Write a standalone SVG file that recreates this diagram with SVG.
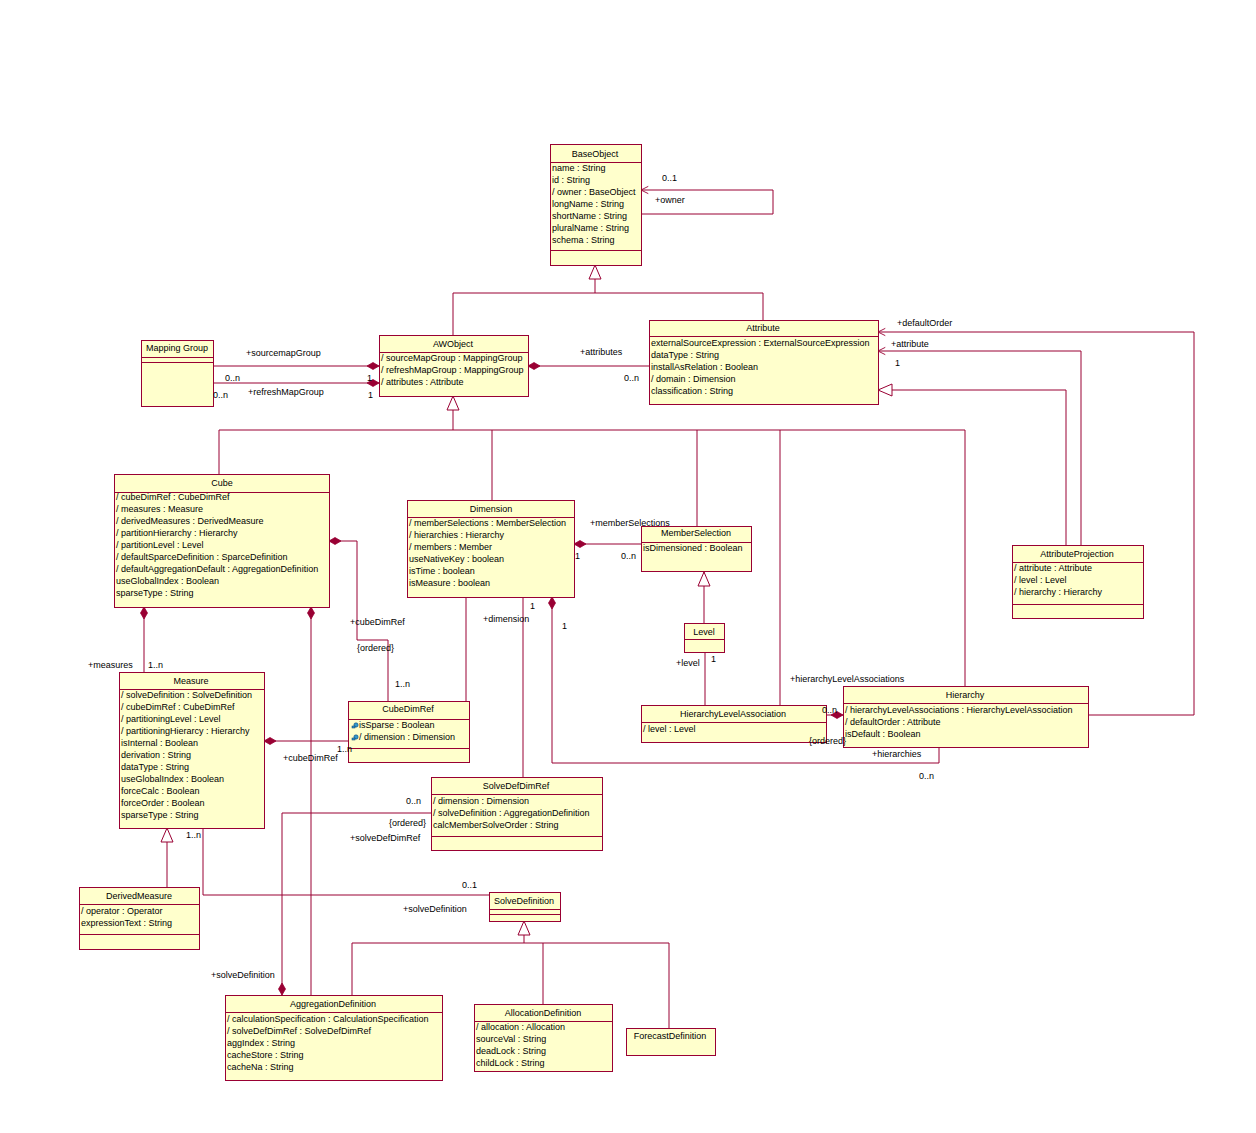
<svg xmlns="http://www.w3.org/2000/svg" width="1256" height="1133" viewBox="0 0 1256 1133">
<style>
.box{fill:#FFFFCC;stroke:#990033;stroke-width:1}
.sep{stroke:#990033;stroke-width:1}
text{font-family:"Liberation Sans",Arial,sans-serif;font-size:9px;fill:#000}
.t{text-anchor:middle}
.c{fill:none;stroke:#990033;stroke-width:1}
.dm{marker-end:url(#diamond)}
.ar{marker-end:url(#arrow)}
.tr{marker-end:url(#tri)}
</style>
<defs>
<marker id="diamond" markerUnits="userSpaceOnUse" markerWidth="14" markerHeight="10" viewBox="-13 -5 14 10" refX="0" refY="0" orient="auto" overflow="visible">
<path d="M0,0 L-6,-3.5 L-12,0 L-6,3.5 Z" fill="#990033" stroke="#990033" stroke-width="0.8"/>
</marker>
<marker id="arrow" markerUnits="userSpaceOnUse" markerWidth="10" markerHeight="10" viewBox="-10 -5 11 10" refX="0" refY="0" orient="auto" overflow="visible">
<path d="M-8,-4 L0,0 L-8,4" fill="none" stroke="#990033" stroke-width="1"/>
</marker>
<marker id="tri" markerUnits="userSpaceOnUse" markerWidth="16" markerHeight="14" viewBox="-15 -7 16 14" refX="0" refY="0" orient="auto" overflow="visible">
<path d="M0,0 L-14,-6 L-14,6 Z" fill="#FFFFFF" stroke="#990033" stroke-width="1"/>
</marker>
</defs>
<rect width="1256" height="1133" fill="#FFFFFF"/>

<g id="connectors">
<path class="c tr" d="M453,335 V293 H595 V265"/>
<path class="c" d="M763,320 V293 H595"/>
<path class="c ar" d="M641,214 H773 V190 H641"/>
<path class="c dm" d="M213,366 H379"/>
<path class="c dm" d="M213,383 H379"/>
<path class="c dm" d="M649,366 H528"/>
<path class="c" d="M219,474 V430 H965 V686"/>
<path class="c tr" d="M453,430 V396"/>
<path class="c" d="M492,430 V500"/>
<path class="c" d="M697,430 V526"/>
<path class="c" d="M780,430 V705"/>
<path class="c ar" d="M1088,715 H1194 V332 H878"/>
<path class="c ar" d="M1081,545 V351 H878"/>
<path class="c tr" d="M1066,545 V390 H878"/>
<path class="c dm" d="M388,701 V640 H357 V541 H329"/>
<path class="c dm" d="M144,672 V607"/>
<path class="c dm" d="M311,995 V607"/>
<path class="c dm" d="M641,544 H574"/>
<path class="c" d="M466,597 V701"/>
<path class="c" d="M523,597 V777"/>
<path class="c dm" d="M939,747 V763 H552 V597"/>
<path class="c tr" d="M704,623 V572"/>
<path class="c" d="M705,652 V705"/>
<path class="c dm" d="M826,715 H843"/>
<path class="c dm" d="M348,741 H264"/>
<path class="c tr" d="M167,887 V828"/>
<path class="c" d="M203,828 V895 H489"/>
<path class="c dm" d="M431,813 H282 V995"/>
<path class="c" d="M352,995 V943 H669 V1028"/>
<path class="c" d="M543,943 V1004"/>
<path class="c tr" d="M524,943 V921"/>
</g>

<g id="BaseObject">
<rect class="box" x="550.5" y="144.5" width="91" height="121"/>
<line class="sep" x1="550" y1="162.5" x2="641" y2="162.5"/>
<line class="sep" x1="550" y1="250.5" x2="641" y2="250.5"/>
<text class="t" x="595" y="157">BaseObject</text>
<text x="552" y="171">name : String</text>
<text x="552" y="183">id : String</text>
<text x="552" y="195">/ owner : BaseObject</text>
<text x="552" y="207">longName : String</text>
<text x="552" y="219">shortName : String</text>
<text x="552" y="231">pluralName : String</text>
<text x="552" y="243">schema : String</text>
</g>

<g id="MappingGroup">
<rect class="box" x="141.5" y="340.5" width="72" height="66"/>
<line class="sep" x1="141" y1="357.5" x2="213" y2="357.5"/>
<line class="sep" x1="141" y1="362.5" x2="213" y2="362.5"/>
<text class="t" x="177" y="351">Mapping Group</text>
</g>

<g id="AWObject">
<rect class="box" x="379.5" y="335.5" width="149" height="61"/>
<line class="sep" x1="379" y1="352.5" x2="528" y2="352.5"/>
<text class="t" x="453" y="347">AWObject</text>
<text x="381" y="361">/ sourceMapGroup : MappingGroup</text>
<text x="381" y="373">/ refreshMapGroup : MappingGroup</text>
<text x="381" y="385">/ attributes : Attribute</text>
</g>

<g id="Attribute">
<rect class="box" x="649.5" y="320.5" width="229" height="84"/>
<line class="sep" x1="649" y1="336.5" x2="878" y2="336.5"/>
<text class="t" x="763" y="331">Attribute</text>
<text x="651" y="346">externalSourceExpression : ExternalSourceExpression</text>
<text x="651" y="358">dataType : String</text>
<text x="651" y="370">installAsRelation : Boolean</text>
<text x="651" y="382">/ domain : Dimension</text>
<text x="651" y="394">classification : String</text>
</g>

<g id="Cube">
<rect class="box" x="114.5" y="474.5" width="215" height="133"/>
<line class="sep" x1="114" y1="492.5" x2="329" y2="492.5"/>
<text class="t" x="222" y="486">Cube</text>
<text x="116" y="500">/ cubeDimRef : CubeDimRef</text>
<text x="116" y="512">/ measures : Measure</text>
<text x="116" y="524">/ derivedMeasures : DerivedMeasure</text>
<text x="116" y="536">/ partitionHierarchy : Hierarchy</text>
<text x="116" y="548">/ partitionLevel : Level</text>
<text x="116" y="560">/ defaultSparceDefinition : SparceDefinition</text>
<text x="116" y="572">/ defaultAggregationDefault : AggregationDefinition</text>
<text x="116" y="584">useGlobalIndex : Boolean</text>
<text x="116" y="596">sparseType : String</text>
</g>

<g id="Dimension">
<rect class="box" x="407.5" y="500.5" width="167" height="97"/>
<line class="sep" x1="407" y1="517.5" x2="574" y2="517.5"/>
<text class="t" x="491" y="512">Dimension</text>
<text x="409" y="526">/ memberSelections : MemberSelection</text>
<text x="409" y="538">/ hierarchies : Hierarchy</text>
<text x="409" y="550">/ members : Member</text>
<text x="409" y="562">useNativeKey : boolean</text>
<text x="409" y="574">isTime : boolean</text>
<text x="409" y="586">isMeasure : boolean</text>
</g>

<g id="MemberSelection">
<rect class="box" x="641.5" y="526.5" width="110" height="45"/>
<line class="sep" x1="641" y1="542.5" x2="751" y2="542.5"/>
<text class="t" x="696" y="536">MemberSelection</text>
<text x="643" y="551">isDimensioned : Boolean</text>
</g>

<g id="AttributeProjection">
<rect class="box" x="1012.5" y="545.5" width="131" height="73"/>
<line class="sep" x1="1012" y1="562.5" x2="1143" y2="562.5"/>
<line class="sep" x1="1012" y1="604.5" x2="1143" y2="604.5"/>
<text class="t" x="1077" y="557">AttributeProjection</text>
<text x="1014" y="571">/ attribute : Attribute</text>
<text x="1014" y="583">/ level : Level</text>
<text x="1014" y="595">/ hierarchy : Hierarchy</text>
</g>

<g id="Level">
<rect class="box" x="684.5" y="623.5" width="40" height="29"/>
<line class="sep" x1="684" y1="639.5" x2="724" y2="639.5"/>
<text class="t" x="704" y="635">Level</text>
</g>

<g id="HierarchyLevelAssociation">
<rect class="box" x="641.5" y="705.5" width="185" height="37"/>
<line class="sep" x1="641" y1="722.5" x2="826" y2="722.5"/>
<text class="t" x="733" y="717">HierarchyLevelAssociation</text>
<text x="643" y="732">/ level : Level</text>
</g>

<g id="Hierarchy">
<rect class="box" x="843.5" y="686.5" width="245" height="61"/>
<line class="sep" x1="843" y1="703.5" x2="1088" y2="703.5"/>
<text class="t" x="965" y="698">Hierarchy</text>
<text x="845" y="713">/ hierarchyLevelAssociations : HierarchyLevelAssociation</text>
<text x="845" y="725">/ defaultOrder : Attribute</text>
<text x="845" y="737">isDefault : Boolean</text>
</g>

<g id="Measure">
<rect class="box" x="119.5" y="672.5" width="145" height="156"/>
<line class="sep" x1="119" y1="689.5" x2="264" y2="689.5"/>
<text class="t" x="191" y="684">Measure</text>
<text x="121" y="698">/ solveDefinition : SolveDefinition</text>
<text x="121" y="710">/ cubeDimRef : CubeDimRef</text>
<text x="121" y="722">/ partitioningLevel : Level</text>
<text x="121" y="734">/ partitioningHierarcy : Hierarchy</text>
<text x="121" y="746">isInternal : Boolean</text>
<text x="121" y="758">derivation : String</text>
<text x="121" y="770">dataType : String</text>
<text x="121" y="782">useGlobalIndex : Boolean</text>
<text x="121" y="794">forceCalc : Boolean</text>
<text x="121" y="806">forceOrder : Boolean</text>
<text x="121" y="818">sparseType : String</text>
</g>

<g id="CubeDimRef">
<rect class="box" x="348.5" y="701.5" width="121" height="61"/>
<line class="sep" x1="348" y1="719.5" x2="469" y2="719.5"/>
<line class="sep" x1="348" y1="748.5" x2="469" y2="748.5"/>
<text class="t" x="408" y="712">CubeDimRef</text>
<g fill="#3399CC" stroke="#003366" stroke-width="0.5">
<circle cx="356" cy="725" r="2.2"/>
<rect x="352" y="726" width="3" height="2"/>
<circle cx="356" cy="737" r="2.2"/>
<rect x="352" y="738" width="3" height="2"/>
</g>
<text x="359" y="728">isSparse : Boolean</text>
<text x="359" y="740">/ dimension : Dimension</text>
</g>

<g id="SolveDefDimRef">
<rect class="box" x="431.5" y="777.5" width="171" height="73"/>
<line class="sep" x1="431" y1="794.5" x2="602" y2="794.5"/>
<line class="sep" x1="431" y1="836.5" x2="602" y2="836.5"/>
<text class="t" x="516" y="789">SolveDefDimRef</text>
<text x="433" y="804">/ dimension : Dimension</text>
<text x="433" y="816">/ solveDefinition : AggregationDefinition</text>
<text x="433" y="828">calcMemberSolveOrder : String</text>
</g>

<g id="DerivedMeasure">
<rect class="box" x="79.5" y="887.5" width="120" height="62"/>
<line class="sep" x1="79" y1="904.5" x2="199" y2="904.5"/>
<line class="sep" x1="79" y1="934.5" x2="199" y2="934.5"/>
<text class="t" x="139" y="899">DerivedMeasure</text>
<text x="81" y="914">/ operator : Operator</text>
<text x="81" y="926">expressionText : String</text>
</g>

<g id="SolveDefinition">
<rect class="box" x="489.5" y="892.5" width="71" height="29"/>
<line class="sep" x1="489" y1="909.5" x2="560" y2="909.5"/>
<line class="sep" x1="489" y1="914.5" x2="560" y2="914.5"/>
<text class="t" x="524" y="904">SolveDefinition</text>
</g>

<g id="AggregationDefinition">
<rect class="box" x="225.5" y="995.5" width="217" height="85"/>
<line class="sep" x1="225" y1="1012.5" x2="442" y2="1012.5"/>
<text class="t" x="333" y="1007">AggregationDefinition</text>
<text x="227" y="1022">/ calculationSpecification : CalculationSpecification</text>
<text x="227" y="1034">/ solveDefDimRef : SolveDefDimRef</text>
<text x="227" y="1046">aggIndex : String</text>
<text x="227" y="1058">cacheStore : String</text>
<text x="227" y="1070">cacheNa : String</text>
</g>

<g id="AllocationDefinition">
<rect class="box" x="474.5" y="1004.5" width="138" height="67"/>
<line class="sep" x1="474" y1="1021.5" x2="612" y2="1021.5"/>
<text class="t" x="543" y="1016">AllocationDefinition</text>
<text x="476" y="1030">/ allocation : Allocation</text>
<text x="476" y="1042">sourceVal : String</text>
<text x="476" y="1054">deadLock : String</text>
<text x="476" y="1066">childLock : String</text>
</g>

<g id="ForecastDefinition">
<rect class="box" x="626.5" y="1028.5" width="89" height="27"/>
<text class="t" x="670" y="1039">ForecastDefinition</text>
</g>

<g id="labels">
<text x="662" y="181">0..1</text>
<text x="655" y="203">+owner</text>
<text x="246" y="356">+sourcemapGroup</text>
<text x="225" y="381">0..n</text>
<text x="367" y="381">1</text>
<text x="248" y="395">+refreshMapGroup</text>
<text x="213" y="398">0..n</text>
<text x="368" y="398">1</text>
<text x="580" y="355">+attributes</text>
<text x="624" y="381">0..n</text>
<text x="897" y="326">+defaultOrder</text>
<text x="891" y="347">+attribute</text>
<text x="895" y="366">1</text>
<text x="350" y="625">+cubeDimRef</text>
<text x="357" y="651">{ordered}</text>
<text x="395" y="687">1..n</text>
<text x="88" y="668">+measures</text>
<text x="148" y="668">1..n</text>
<text x="590" y="526">+memberSelections</text>
<text x="575" y="559">1</text>
<text x="621" y="559">0..n</text>
<text x="530" y="609">1</text>
<text x="483" y="622">+dimension</text>
<text x="562" y="629">1</text>
<text x="676" y="666">+level</text>
<text x="711" y="662">1</text>
<text x="790" y="682">+hierarchyLevelAssociations</text>
<text x="822" y="713">0..n</text>
<text x="809" y="744">{ordered}</text>
<text x="872" y="757">+hierarchies</text>
<text x="919" y="779">0..n</text>
<text x="283" y="761">+cubeDimRef</text>
<text x="337" y="752">1..n</text>
<text x="406" y="804">0..n</text>
<text x="389" y="826">{ordered}</text>
<text x="350" y="841">+solveDefDimRef</text>
<text x="186" y="838">1..n</text>
<text x="462" y="888">0..1</text>
<text x="403" y="912">+solveDefinition</text>
<text x="211" y="978">+solveDefinition</text>
</g>
</svg>
